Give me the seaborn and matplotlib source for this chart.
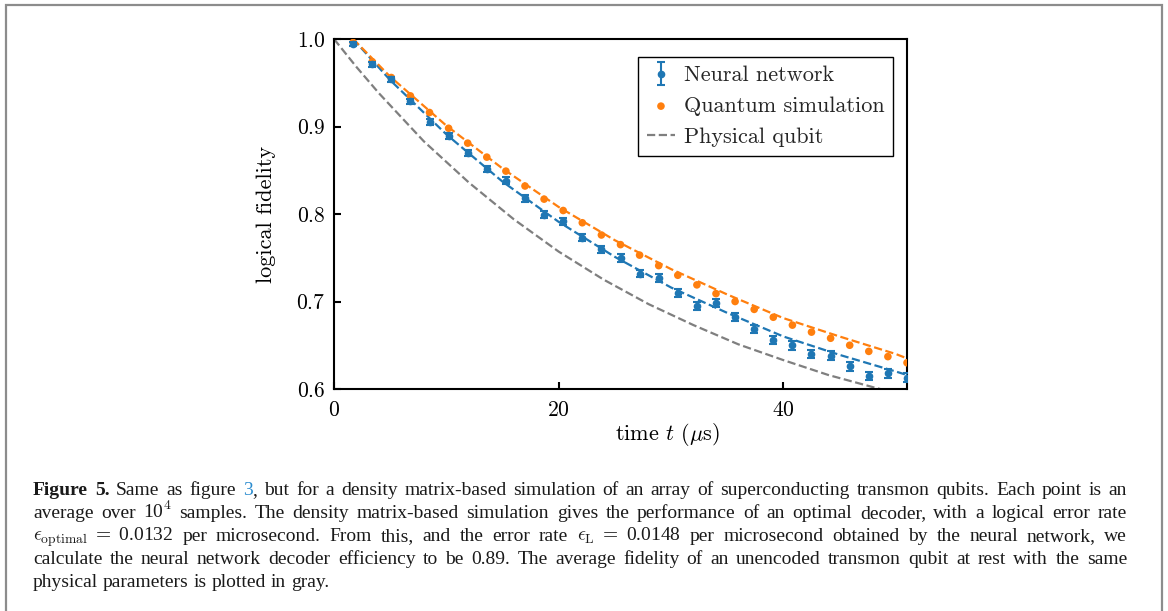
import matplotlib
matplotlib.use("Agg")
import matplotlib.pyplot as plt
from matplotlib.patches import Rectangle
import seaborn as sns

# readings from the figure: time in microseconds
t_us = [1.7, 3.4, 5.1, 6.8, 8.5, 10.2, 11.9, 13.6, 15.3, 17.0,
        18.7, 20.4, 22.1, 23.8, 25.5, 27.2, 28.9, 30.6, 32.3, 34.0,
        35.7, 37.4, 39.1, 40.8, 42.5, 44.2, 45.9, 47.6, 49.3, 51.0]

nn_fid = [0.994, 0.971, 0.954, 0.929, 0.905, 0.889, 0.870, 0.851, 0.838, 0.818,
          0.799, 0.792, 0.773, 0.760, 0.750, 0.732, 0.727, 0.710, 0.695, 0.698,
          0.682, 0.669, 0.656, 0.650, 0.640, 0.638, 0.626, 0.615, 0.618, 0.613]
nn_err = [0.0025, 0.0025, 0.003, 0.003, 0.0035, 0.0035, 0.0035, 0.0035, 0.004, 0.004,
          0.004, 0.004, 0.004, 0.004, 0.0045, 0.0045, 0.0045, 0.0045, 0.0045, 0.0045,
          0.0045, 0.0045, 0.005, 0.005, 0.005, 0.005, 0.005, 0.005, 0.005, 0.005]

qsim_fid = [0.996, 0.974, 0.956, 0.935, 0.916, 0.898, 0.881, 0.865, 0.849, 0.832,
            0.817, 0.804, 0.790, 0.776, 0.765, 0.753, 0.741, 0.730, 0.719, 0.709,
            0.700, 0.691, 0.682, 0.673, 0.665, 0.658, 0.650, 0.643, 0.637, 0.630]

# dashed fit curves
fit_t = [1.7, 5, 10, 15, 20, 25, 30, 35, 40, 45, 50, 51]
nn_fit = [1.0, 0.953, 0.891, 0.837, 0.791, 0.751, 0.716, 0.687, 0.660, 0.639, 0.620, 0.616]
qsim_fit = [1.0, 0.957, 0.901, 0.852, 0.808, 0.770, 0.737, 0.708, 0.681, 0.660, 0.640, 0.635]

phys_t = [0, 2, 4, 8, 12, 16, 20, 24, 28, 32, 36, 40, 44, 48, 51]
phys_fid = [1.0, 0.968, 0.938, 0.883, 0.836, 0.794, 0.757, 0.725, 0.697, 0.673,
            0.651, 0.633, 0.616, 0.602, 0.592]

legend_order = ["Neural network", "Quantum simulation", "Physical qubit"]

caption_lines = [
    "Figure 5. Same as figure 3, but for a density matrix-based simulation of an array of superconducting transmon qubits. Each point is an",
    "average over 10$^4$ samples. The density matrix-based simulation gives the performance of an optimal decoder, with a logical error rate",
    "$\\epsilon_{\\mathrm{optimal}}\\;=\\;$0.0132 per microsecond. From this, and the error rate $\\epsilon_{\\mathrm{L}}\\;=\\;$0.0148 per microsecond obtained by the neural network, we",
    "calculate the neural network decoder efficiency to be 0.89. The average fidelity of an unencoded transmon qubit at rest with the same",
    "physical parameters is plotted in gray.",
]

BLUE = "#1f77b4"
ORANGE = "#ff7f0e"
GRAY = "#7f7f7f"
LINK = "#2b8ccf"
W, H = 1168, 611

sns.set_theme(style="ticks")
plt.rcParams["font.family"] = ["cmr10"]
plt.rcParams["mathtext.fontset"] = "cm"
plt.rcParams["axes.formatter.use_mathtext"] = True
plt.rcParams["axes.edgecolor"] = "black"
plt.rcParams["axes.linewidth"] = 1.5

fig = plt.figure(figsize=(W / 100, H / 100), dpi=100)
ax = fig.add_axes([334 / W, 1 - 389 / H, 573 / W, 350 / H])

sns.lineplot(x=phys_t, y=phys_fid, ax=ax, color=GRAY, linestyle="--", lw=1.6,
             label="Physical qubit")
sns.lineplot(x=fit_t, y=nn_fit, ax=ax, color=BLUE, linestyle="--", lw=1.6)
sns.lineplot(x=fit_t, y=qsim_fit, ax=ax, color=ORANGE, linestyle="--", lw=1.6)
sns.scatterplot(x=t_us, y=qsim_fid, ax=ax, color=ORANGE, s=30, edgecolor="none",
                label="Quantum simulation", zorder=3)
ax.errorbar(t_us, nn_fid, yerr=nn_err, fmt="o", ms=4.5, color=BLUE, capsize=3,
            capthick=1.5, elinewidth=1.5, label="Neural network", zorder=4)

ax.set_xlim(0, 51)
ax.set_ylim(0.6, 1.0)
ax.set_xticks([0, 20, 40])
ax.set_yticks([0.6, 0.7, 0.8, 0.9, 1.0])
ax.tick_params(direction="in", length=5, width=1.5, labelsize=15.5, color="black",
               labelcolor="black", top=False, right=False)
ax.tick_params(axis="x", pad=8)
ax.tick_params(axis="y", pad=6)
for s in ax.spines.values():
    s.set_visible(True)
    s.set_linewidth(1.5)
    s.set_color("black")
ax.set_xlabel("time $t$ ($\\mu$s)", fontsize=16, color="black", labelpad=7)
ax.xaxis.set_label_coords(0.583, -0.09)
ax.set_ylabel("logical fidelity", fontsize=16, color="black", labelpad=15)

handles, labels = ax.get_legend_handles_labels()
lookup = dict(zip(labels, handles))
leg = ax.legend([lookup[k] for k in legend_order], legend_order, loc="upper right",
                bbox_to_anchor=(0.976, 0.949), borderaxespad=0, fontsize=16,
                frameon=True, fancybox=False, framealpha=1, edgecolor="black",
                handlelength=1.25, handletextpad=0.4, labelspacing=0.5)
leg.get_frame().set_linewidth(1.0)

# page border
fig.patches.append(Rectangle((6 / W, -0.1), (1162 - 6) / W, 1.1 - 5 / H,
                             transform=fig.transFigure, fill=False,
                             ec="#8c8c8c", lw=1.6))

# justified caption
renderer = fig.canvas.get_renderer()
left, right = 33, 1127
baselines = [495, 518, 541, 564, 587]
for i, line in enumerate(caption_lines):
    y = 1 - baselines[i] / H
    groups = []
    for j, word in enumerate(line.split(" ")):
        if i == 0 and j < 2:
            pieces = [(word, {"weight": "bold"})]
        elif word == "3,":
            pieces = [("3", {"color": LINK}), (",", {})]
        else:
            pieces = [(word, {})]
        arts = [fig.text(0, y, s, va="baseline", ha="left", family="Liberation Serif",
                         fontsize=14, color=kw.get("color", "#1a1a1a"),
                         weight=kw.get("weight", "normal"))
                for s, kw in pieces]
        groups.append(arts)
    widths = [[a.get_window_extent(renderer).width for a in g] for g in groups]
    total = sum(sum(ws) for ws in widths)
    if i < len(caption_lines) - 1:
        gap = (right - left - total) / (len(groups) - 1)
    else:
        gap = 4.9
    x = left
    for g, ws in zip(groups, widths):
        for a, w in zip(g, ws):
            a.set_x(x / W)
            x += w
        x += gap

fig.savefig("out.png", dpi=100)
